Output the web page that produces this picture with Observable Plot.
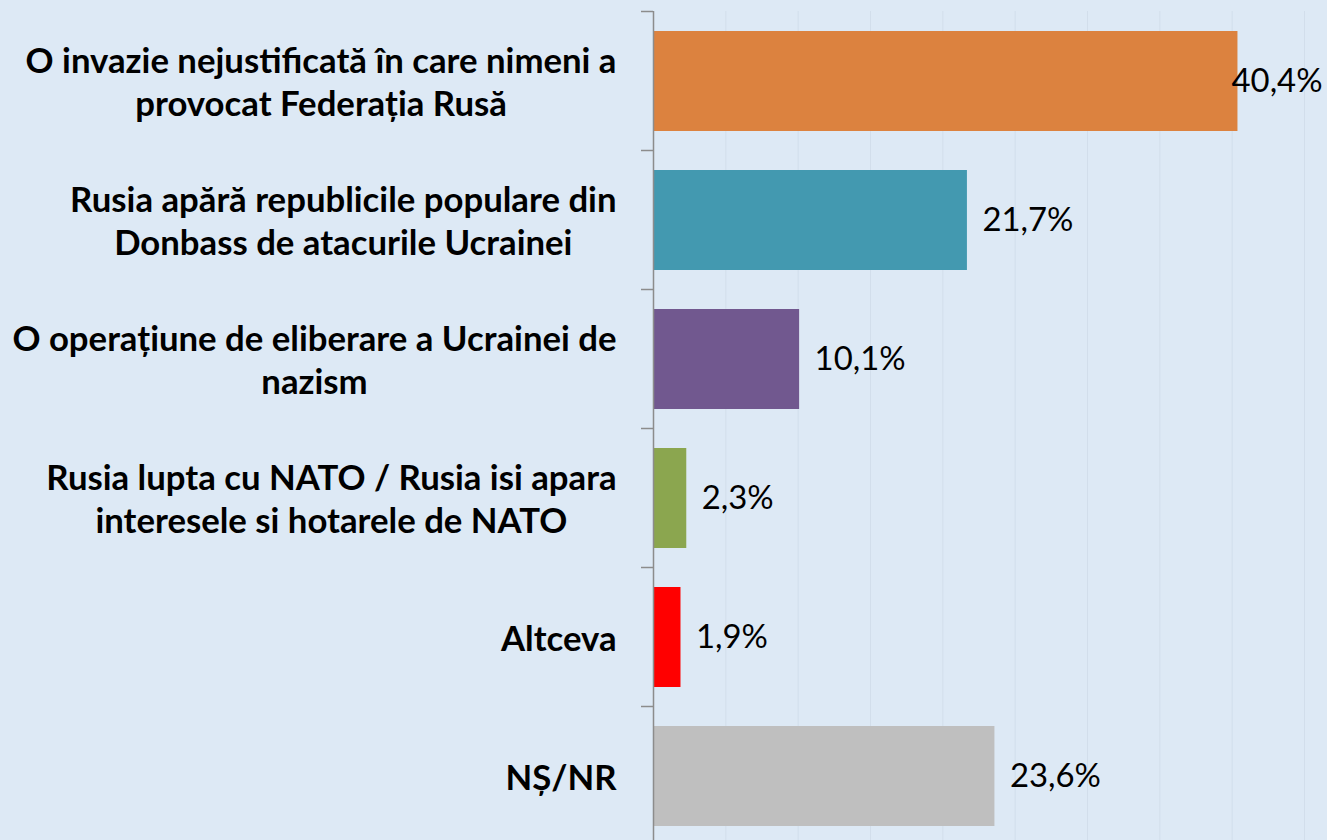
<!DOCTYPE html>
<html>
<head>
<meta charset="utf-8">
<script src="https://cdn.jsdelivr.net/npm/d3@7"></script>
<script src="https://cdn.jsdelivr.net/npm/@observablehq/plot@0.6"></script>
<style>
  html, body { margin: 0; padding: 0; background: #dde9f5; overflow: hidden; }
  #chart svg { display: block; background: #dde9f5; }
</style>
</head>
<body>
<div id="chart"></div>
<script>
const categories = [
  "O invazie nejustificată în care nimeni a\nprovocat Federația Rusă",
  "Rusia apără republicile populare din\nDonbass de atacurile Ucrainei",
  "O operațiune de eliberare a Ucrainei de\nnazism",
  "Rusia lupta cu NATO / Rusia isi apara\ninteresele si hotarele de NATO",
  "Altceva",
  "NȘ/NR"
];
const values = [40.4, 21.7, 10.1, 2.3, 1.9, 23.6];
const colors = ["#dc823f", "#4399b0", "#71588f", "#8ba64f", "#ff0000", "#bfbfbf"];
const xTicks = [0, 5, 10, 15, 20, 25, 30, 35, 40, 45];
const bandTicks = [0, 1, 2, 3, 4, 5, 6];

const data = categories.map((c, i) => ({i, category: c, value: values[i], color: colors[i]}));
const fmt = v => d3.format(".1f")(v).replace(".", ",") + "%";

const ctx = document.createElement("canvas").getContext("2d");
function tw(text, font) { ctx.font = font; return ctx.measureText(text).width; }
const catSize = 100 * 591 / tw("O invazie nejustificată în care nimeni a", "bold 100px Lato");
const valSize = 100 * 91 / tw("23,6%", "100px Lato");

const catMarks = data.map(d => {
  const lines = d.category.split("\n");
  const maxW = d3.max(lines, l => tw(l, `bold ${catSize}px Lato`));
  return Plot.text([d], {
    y: r => r.i + 0.5,
    text: "category",
    frameAnchor: "left",
    textAnchor: "middle",
    dx: -37 - maxW / 2,
    fontWeight: "bold",
    fontSize: catSize,
    fontFamily: "Lato",
    lineHeight: 43 / catSize,
    fill: "#000"
  });
});

const chart = Plot.plot({
  width: 1327,
  height: 845,
  marginLeft: 653,
  marginRight: 23,
  marginTop: 11,
  marginBottom: 0,
  style: {background: "#dde9f5", fontFamily: "Lato"},
  x: {domain: [0, 45], axis: null},
  y: {domain: [0, 6], reverse: true, axis: null},
  marks: [
    Plot.gridX(xTicks, {stroke: "#d2deeb", strokeOpacity: 1, strokeWidth: 1}),
    Plot.rectX(data, {
      x1: 0, x2: "value",
      y1: d => d.i, y2: d => d.i + 1,
      insetTop: 20, insetBottom: 19,
      fill: "color"
    }),
    Plot.ruleX([0], {stroke: "#8c8c8c", strokeWidth: 1.5}),
    Plot.axisY(bandTicks, {tickSize: 12, tickFormat: () => "", stroke: "#8c8c8c", strokeWidth: 1.5}),
    Plot.text(data.filter(d => d.value < 40), {
      x: "value", y: d => d.i + 0.5, text: d => fmt(d.value),
      textAnchor: "start", dx: 15, fontSize: valSize, fontFamily: "Lato", fill: "#000"
    }),
    Plot.text(data.filter(d => d.value >= 40), {
      frameAnchor: "right", y: d => d.i + 0.5, text: d => fmt(d.value),
      textAnchor: "end", dx: 18, fontSize: valSize, fontFamily: "Lato", fill: "#000"
    }),
    ...catMarks
  ]
});
document.getElementById("chart").append(chart);
</script>
</body>
</html>
